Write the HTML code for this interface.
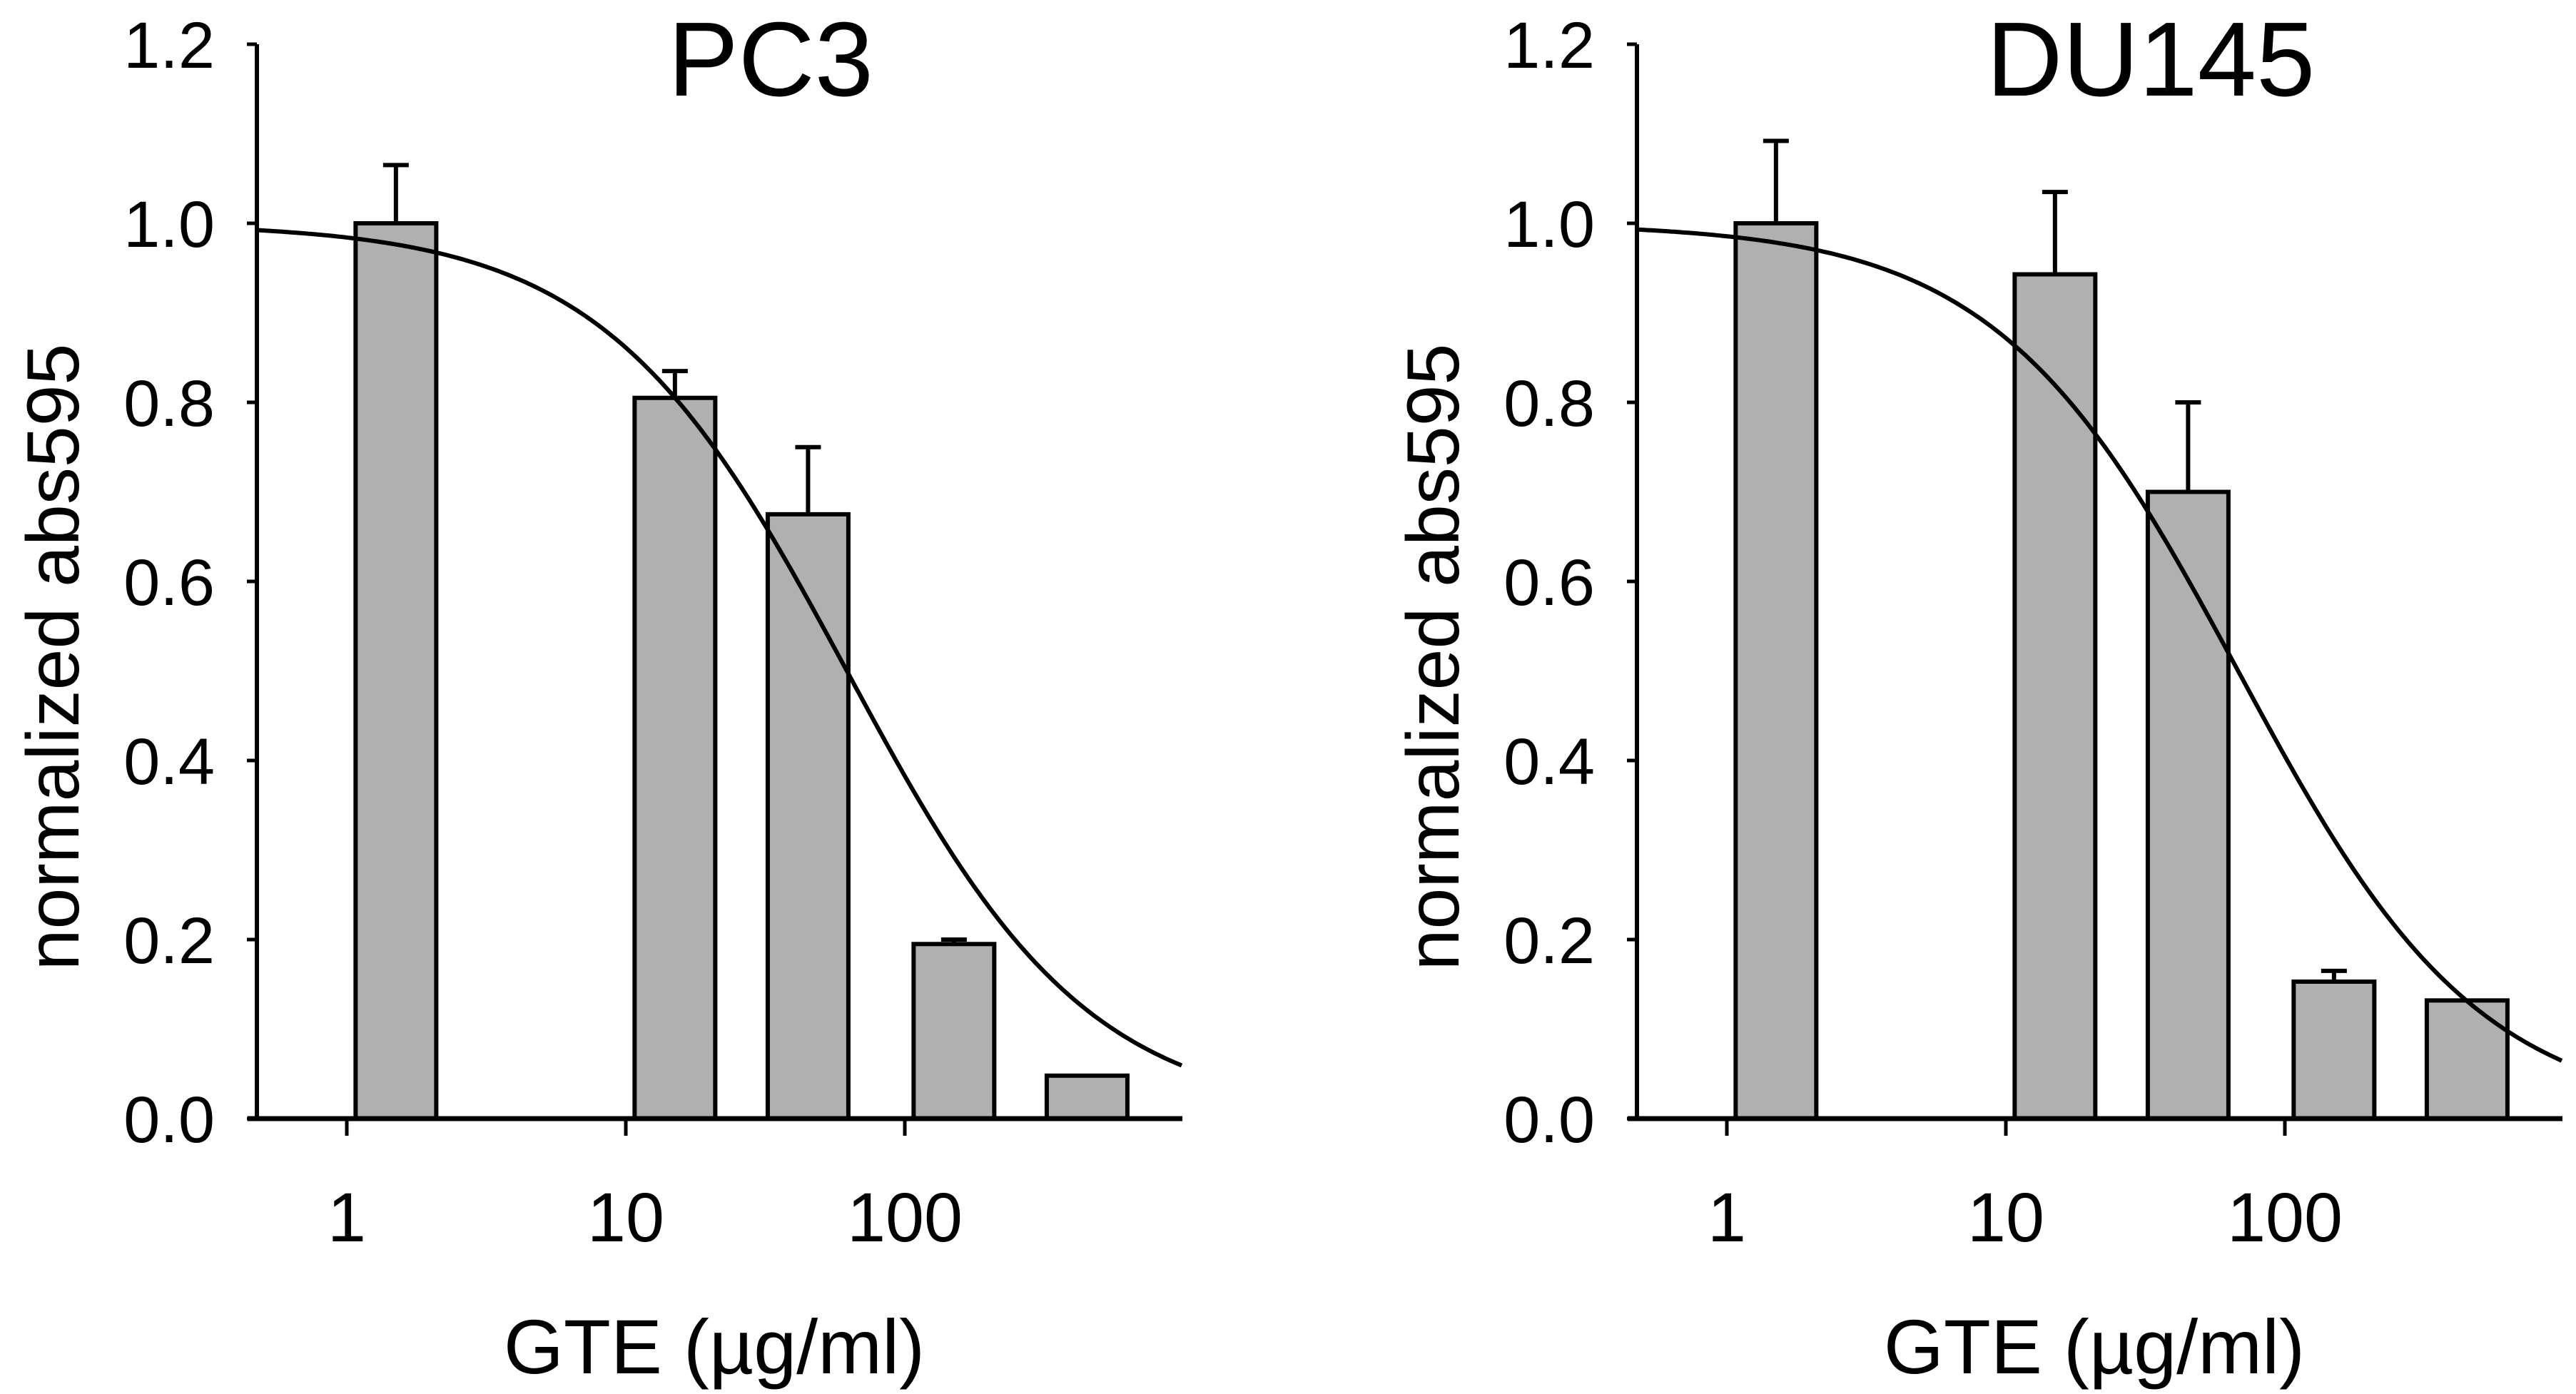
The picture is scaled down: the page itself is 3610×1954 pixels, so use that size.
<!DOCTYPE html>
<html><head><meta charset="utf-8"><style>
html,body{margin:0;padding:0;background:#fff;}
svg{display:block;}
text{font-family:"Liberation Sans",Arial,sans-serif;fill:#000;}
</style></head><body>
<svg id="chart" width="3610" height="1954" viewBox="0 0 3610 1954" xmlns="http://www.w3.org/2000/svg"></svg>
<script>
const conc = [1.5, 15, 45, 150, 450];
const pc3Values = [1.0, 0.805, 0.675, 0.195, 0.048];
const pc3Errors = [0.065, 0.03, 0.075, 0.005, 0];
const du145Values = [1.0, 0.943, 0.70, 0.153, 0.132];
const du145Errors = [0.092, 0.092, 0.10, 0.012, 0];
const yTicks = [0, 0.2, 0.4, 0.6, 0.8, 1.0, 1.2];
const xTicks = [1, 10, 100];
const xTickLabels = ["1", "10", "100"];
const pc3Fit = [62, 1.0];
const du145Fit = [68, 1.0];

const NS = "http://www.w3.org/2000/svg";
const svg = document.getElementById('chart');
function mk(tag, attrs, parent) {
  const e = document.createElementNS(NS, tag);
  for (const k in attrs) e.setAttribute(k, attrs[k]);
  (parent || svg).appendChild(e);
  return e;
}

function panel(offset, title, values, errors, fit, key) {
  const g = mk('g', {transform: 'translate(' + offset + ',0)'});
  
  
  const axX = 360, y0 = 1568, y12 = 62;
  const yS = v => y0 - (y0 - y12) * v / 1.2;
  const x1 = 486, dec = 391;
  const xS = c => x1 + dec * Math.log10(c);
  const barW = 113;

  values.forEach((v, i) => {
    const cx = xS(conc[i]);
    if (errors[i] > 0) {
      const eb = mk('path', {d: 'M' + cx + ' ' + yS(v) + ' V' + yS(v + errors[i]) + ' M' + (cx - 18) + ' ' + yS(v + errors[i]) + ' H' + (cx + 18), stroke: '#000', 'stroke-width': 6, fill: 'none'}, g);
      
      
    }
    const r = mk('rect', {x: cx - barW / 2, y: yS(v), width: barW, height: y0 - yS(v), fill: '#b0b0b0', stroke: '#000', 'stroke-width': 6}, g);
    
    
  });

  let d = '';
  const xl = axX, xr = 1657;
  for (let px = xl; px <= xr; px += 4) {
    const c = Math.pow(10, (px - x1) / dec);
    const v = 1 / (1 + Math.pow(c / fit[0], fit[1]));
    d += (d ? ' L' : 'M') + px + ' ' + yS(v).toFixed(1);
  }
  const curve = mk('path', {d: d, stroke: '#000', 'stroke-width': 6, fill: 'none'}, g);
  
  

  const ya = mk('line', {x1: axX, y1: y12, x2: axX, y2: y0 + 3, stroke: '#000', 'stroke-width': 6}, g);
  
  
  const xa = mk('line', {x1: 347, y1: y0, x2: 1657, y2: y0, stroke: '#000', 'stroke-width': 7}, g);
  
  

  yTicks.forEach(t => {
    const tk = mk('line', {x1: axX - 14, y1: yS(t), x2: axX, y2: yS(t), stroke: '#000', 'stroke-width': 5}, g);
    
    
    const tl = mk('text', {x: 301, y: yS(t) + 33, 'text-anchor': 'end', 'font-size': 92}, g);
    tl.textContent = t.toFixed(1);
    
    
  });
  xTicks.forEach((t, i) => {
    const tk = mk('line', {x1: xS(t), y1: y0, x2: xS(t), y2: y0 + 24, stroke: '#000', 'stroke-width': 5}, g);
    
    
    const tl = mk('text', {x: xS(t), y: 1740, 'text-anchor': 'middle', 'font-size': 97}, g);
    tl.textContent = xTickLabels[i];
    
    
  });

  const xt = mk('text', {x: 1001, y: 1925, 'text-anchor': 'middle', 'font-size': 108}, g);
  xt.textContent = 'GTE (µg/ml)';
  
  
  const yt = mk('text', {x: 0, y: 0, 'text-anchor': 'middle', 'font-size': 104, transform: 'translate(110,921) rotate(-90)'}, g);
  yt.textContent = 'normalized abs595';
  
  
  const tt = mk('text', {x: 1080, y: 134, 'text-anchor': 'middle', 'font-size': 148}, g);
  tt.textContent = title;
  
  
}

panel(0, 'PC3', pc3Values, pc3Errors, pc3Fit, 'pc3');
panel(1934, 'DU145', du145Values, du145Errors, du145Fit, 'du145');
</script>
</body></html>
